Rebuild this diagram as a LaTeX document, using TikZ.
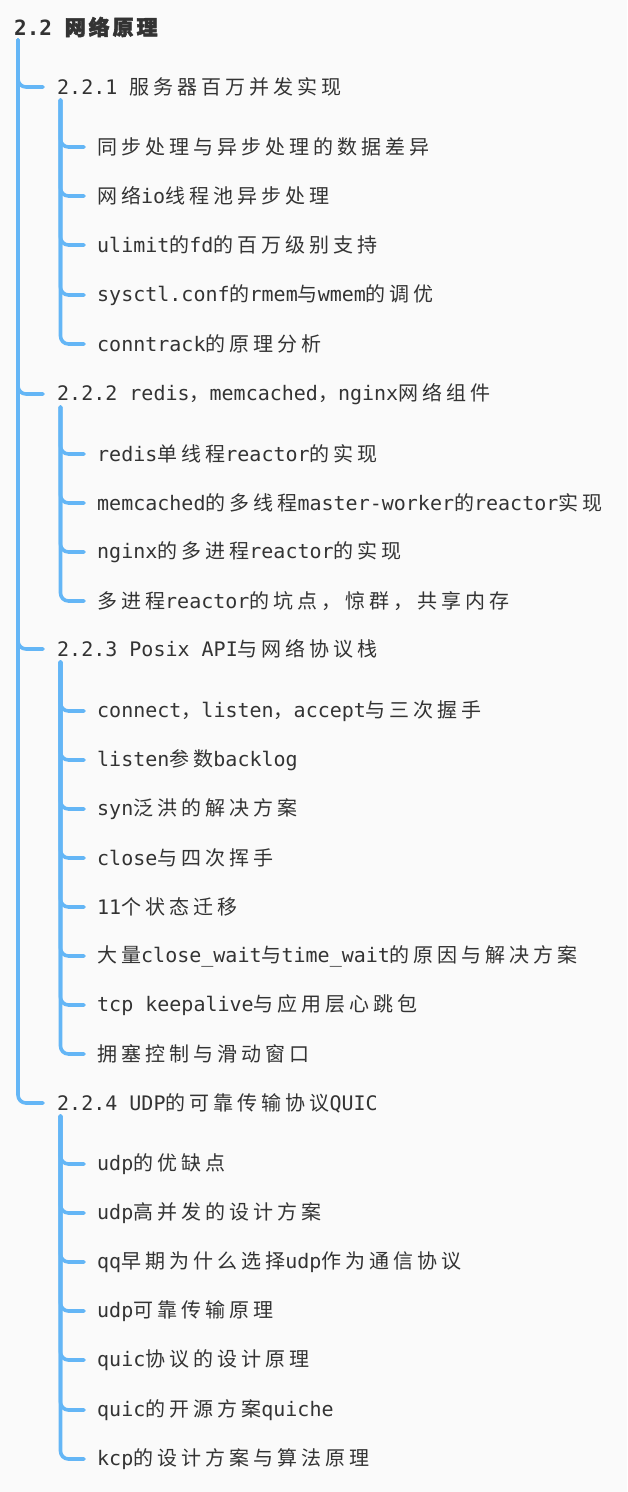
\documentclass[tikz,border=0pt]{standalone}
\usepackage{fontspec}
\setmainfont{DejaVu Sans Mono}
\newfontfamily\cjk[LetterSpace=20]{Noto Sans CJK SC}
\newfontfamily\cjkb[LetterSpace=14,FakeBold=2.5]{Noto Sans CJK SC}
\newcommand{\zh}[1]{{\cjk #1}}
\definecolor{linec}{RGB}{100,182,246}
\definecolor{textc}{RGB}{51,51,51}
\definecolor{bgc}{RGB}{250,250,250}
\tikzset{
  txt/.style={anchor=west, inner sep=0pt, text=textc, font=\fontsize{20}{24}\selectfont},
  ttl/.style={anchor=west, inner sep=0pt, text=textc, font=\fontsize{21}{25}\selectfont\bfseries},
  conn/.style={draw=linec, line width=3.6pt, line cap=round, rounded corners=8pt},
}
\begin{document}
\begin{tikzpicture}[x=1pt,y=-1pt]
\fill[bgc] (0,0) rectangle (627,1492);
\useasboundingbox (0,0) rectangle (627,1492);
\node[ttl] (T) at (14,27) {2.2 {\cjkb 网络原理}};
% level 1
\node[txt] (A) at (57,87) {2.2.1 \zh{服务器百万并发实现}};
\node[txt] (B) at (57,394) {2.2.2 redis\zh{，}memcached\zh{，}nginx\zh{网络组件}};
\node[txt] (C) at (57,649) {2.2.3 Posix API\zh{与网络协议栈}};
\node[txt] (D) at (57,1103) {2.2.4 UDP\zh{的可靠传输协议}QUIC};
% group A
\node[txt] (A1) at (97,147) {\zh{同步处理与异步处理的数据差异}};
\node[txt] (A2) at (97,196) {\zh{网络}io\zh{线程池异步处理}};
\node[txt] (A3) at (97,245) {ulimit\zh{的}fd\zh{的百万级别支持}};
\node[txt] (A4) at (97,295) {sysctl.conf\zh{的}rmem\zh{与}wmem\zh{的调优}};
\node[txt] (A5) at (97,344) {conntrack\zh{的原理分析}};
% group B
\node[txt] (B1) at (97,454) {redis\zh{单线程}reactor\zh{的实现}};
\node[txt] (B2) at (97,503) {memcached\zh{的多线程}master-worker\zh{的}reactor\zh{实现}};
\node[txt] (B3) at (97,552) {nginx\zh{的多进程}reactor\zh{的实现}};
\node[txt] (B4) at (97,601) {\zh{多进程}reactor\zh{的坑点，惊群，共享内存}};
% group C
\node[txt] (C1) at (97,711) {connect\zh{，}listen\zh{，}accept\zh{与三次握手}};
\node[txt] (C2) at (97,760) {listen\zh{参数}backlog};
\node[txt] (C3) at (97,809) {syn\zh{泛洪的解决方案}};
\node[txt] (C4) at (97,858) {close\zh{与四次挥手}};
\node[txt] (C5) at (97,907) {11\zh{个状态迁移}};
\node[txt] (C6) at (97,956) {\zh{大量}close\_wait\zh{与}time\_wait\zh{的原因与解决方案}};
\node[txt] (C7) at (97,1005) {tcp keepalive\zh{与应用层心跳包}};
\node[txt] (C8) at (97,1054) {\zh{拥塞控制与滑动窗口}};
% group D
\node[txt] (D1) at (97,1164) {udp\zh{的优缺点}};
\node[txt] (D2) at (97,1213) {udp\zh{高并发的设计方案}};
\node[txt] (D3) at (97,1262) {qq\zh{早期为什么选择}udp\zh{作为通信协议}};
\node[txt] (D4) at (97,1311) {udp\zh{可靠传输原理}};
\node[txt] (D5) at (97,1360) {quic\zh{协议的设计原理}};
\node[txt] (D6) at (97,1410) {quic\zh{的开源方案}quiche};
\node[txt] (D7) at (97,1459) {kcp\zh{的设计方案与算法原理}};
% connectors
\foreach \c in {A,B,C,D}
  \draw[conn] ([xshift=4pt,yshift=-13pt]T.west) |- ([xshift=-14pt]\c.west);
\foreach \c in {A1,A2,A3,A4,A5}
  \draw[conn] ([xshift=3.5pt,yshift=-13pt]A.west) |- ([xshift=-13pt]\c.west);
\foreach \c in {B1,B2,B3,B4}
  \draw[conn] ([xshift=3.5pt,yshift=-13pt]B.west) |- ([xshift=-13pt]\c.west);
\foreach \c in {C1,C2,C3,C4,C5,C6,C7,C8}
  \draw[conn] ([xshift=3.5pt,yshift=-13pt]C.west) |- ([xshift=-13pt]\c.west);
\foreach \c in {D1,D2,D3,D4,D5,D6,D7}
  \draw[conn] ([xshift=3.5pt,yshift=-13pt]D.west) |- ([xshift=-13pt]\c.west);
\end{tikzpicture}
\end{document}
